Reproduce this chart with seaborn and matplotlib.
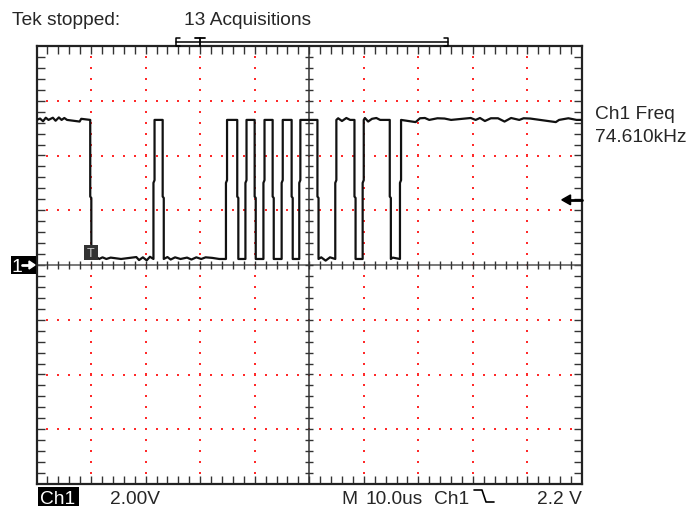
import numpy as np
import pandas as pd
import seaborn as sns
import matplotlib.pyplot as plt
from matplotlib.patches import Rectangle, Polygon

# scope settings (10 us/div, 2 V/div, trigger 1 div from left)
t_min, t_max = -10.0, 90.0
v_min, v_max = -8.0, 8.0
high_v = 5.3
low_v = 0.22
trig_level = 2.38

# edge times in us, alternating fall / rise, starting high
edge_times = [-0.15, 11.44, 13.13, 24.73, 26.8, 28.3, 29.99, 31.6, 33.29,
              34.94, 36.77, 38.17, 41.5, 44.77, 48.29, 49.79, 54.76, 56.63]

# ripple (time us, offset V)
ripple_t = [-9.35, -8.8, -8.3, -7.8, -7.0, -6.5, -5.9, -5.4, -4.9, -4.4, -2.1, -1.8,
            0.9, 1.5, 2.1, 2.8, 3.6, 5.5, 8.3, 8.8, 9.5, 10.2, 10.8,
            14.0, 14.6, 15.4, 16.4, 17.6, 18.4, 19.3, 20.2, 21.0, 22.2, 23.5,
            42.2, 43.0, 43.8, 45.3, 46.0, 46.8, 47.5,
            50.2, 50.8, 51.5, 52.3, 53.0, 55.3,
            59.5, 60.3, 61.2, 62.0, 63.5, 64.8, 66.0, 69.6, 70.5, 71.3, 72.2,
            73.3, 74.6, 75.8, 77.0, 78.5, 79.3, 80.5, 85.2, 85.8, 87.5, 89.0]
ripple_v = [0.05, -0.05, 0.08, 0.0, 0.08, -0.03, 0.09, 0.0, 0.07, 0.0, -0.06, 0.04,
            0.08, 0.0, 0.06, 0.0, 0.05, 0.0, 0.07, -0.04, 0.06, -0.05, 0.08,
            0.07, -0.02, 0.06, 0.0, 0.05, -0.02, 0.06, 0.0, 0.06, 0.04, 0.0,
            0.06, -0.06, 0.06, 0.06, -0.04, 0.07, 0.0,
            0.07, -0.06, 0.04, 0.07, 0.0, 0.05,
            -0.08, 0.06, 0.07, 0.0, 0.06, 0.05, 0.0, 0.07, 0.0, 0.07, -0.04,
            0.06, 0.06, -0.06, 0.07, 0.0, 0.06, 0.05, -0.08, 0.0, 0.06, 0.0]


def build_trace():
    ts, vs = [t_min], [high_v]
    level = high_v
    prev = t_min
    bounds = edge_times + [t_max]
    for i, e in enumerate(bounds):
        for rt, rv in zip(ripple_t, ripple_v):
            if prev < rt < e:
                ts.append(rt)
                vs.append(level + rv)
        if i == len(edge_times):
            ts.append(t_max)
            vs.append(level)
            break
        if level == high_v:
            ts += [e, e, e + 0.2, e + 0.2]
            vs += [high_v, 2.5, 2.45, low_v]
            level = low_v
        else:
            ts += [e, e, e + 0.2, e + 0.2]
            vs += [low_v, 3.0, 3.1, high_v]
            level = high_v
        prev = e + 0.2
    return pd.DataFrame({'t': ts, 'v': vs})


def main():
    sns.set_style('white')
    plt.rcParams['font.family'] = ['Liberation Sans', 'DejaVu Sans']

    W, H = 691, 510
    fig = plt.figure(figsize=(W / 100, H / 100), dpi=100, facecolor='white')
    left, right, top, bottom = 36.5, 582, 47, 485
    ax = fig.add_axes([left / W, (H - bottom) / H, (right - left) / W, (bottom - top) / H])
    ax.set_xlim(t_min, t_max)
    ax.set_ylim(v_min, v_max)

    # red dotted graticule
    for k in range(1, 10):
        if k == 5:
            continue
        gx = t_min + 10 * k
        gy = np.arange(v_min + 0.4, v_max, 0.4)
        ax.scatter(np.full_like(gy, gx), gy, s=2.2, marker='s', color='#ff2a2a', linewidths=0, zorder=1)
    for k in range(1, 8):
        if k == 4:
            continue
        gy = v_min + 2 * k
        gx = np.arange(t_min + 2, t_max, 2)
        ax.scatter(gx, np.full_like(gx, gy), s=2.2, marker='s', color='#ff2a2a', linewidths=0, zorder=1)

    # centre cross with small ticks
    ax.axhline(0, color='#555555', lw=1.1, zorder=2)
    ax.axvline(40, color='#333333', lw=1.1, zorder=2)
    cx = np.arange(t_min + 2, t_max, 2)
    ax.plot(cx, np.zeros_like(cx), ls='none', marker='|', ms=6, mew=1.0, color='#333333', zorder=2)
    cy = np.arange(v_min + 0.4, v_max, 0.4)
    ax.plot(np.full_like(cy, 40), cy, ls='none', marker='_', ms=6, mew=1.0, color='#333333', zorder=2)

    # frame ticks
    ax.set_xticks(np.arange(t_min + 2, t_max, 2))
    ax.set_yticks(np.arange(v_min + 0.4, v_max, 0.4))
    ax.tick_params(direction='in', length=6, width=1.0, color='#333333',
                   top=True, right=True, bottom=True, left=True,
                   labelbottom=False, labelleft=False)
    for s in ax.spines.values():
        s.set_visible(True)
        s.set_color('#222222')
        s.set_linewidth(1.6)

    # waveform
    df = build_trace()
    sns.lineplot(data=df, x='t', y='v', sort=False, estimator=None,
                 color='#111111', lw=1.6, ax=ax, zorder=5)
    ax.set_xlabel('')
    ax.set_ylabel('')

    # trigger point marker
    ax.add_patch(Rectangle((-1.3, 0.19), 2.5, 0.55, facecolor='#333333', edgecolor='none', zorder=6))
    ax.text(-0.05, 0.44, 'T', color='#cccccc', fontsize=9, ha='center', va='center', zorder=7)

    # trigger level arrow
    ax.plot([87.5, 90], [trig_level, trig_level], color='black', lw=2, clip_on=False, zorder=6)
    ax.add_patch(Polygon([[86.3, trig_level], [87.9, trig_level + 0.18], [87.9, trig_level - 0.18]],
                         closed=True, color='black', clip_on=False, zorder=6))

    # overlay in pixel coords for the readouts
    ov = fig.add_axes([0, 0, 1, 1], facecolor='none')
    ov.set_xlim(0, W)
    ov.set_ylim(H, 0)
    ov.axis('off')
    fs = 13.8
    ov.text(12, 25, 'Tek stopped:', fontsize=fs, va='baseline')
    ov.text(184, 25, '13 Acquisitions', fontsize=fs, va='baseline')
    # record bracket
    ov.plot([176, 448], [42.7, 42.7], color='black', lw=1.1)
    ov.plot([180, 176, 176, 180], [38.5, 38.5, 47, 47], color='black', lw=1.1)
    ov.plot([444, 448, 448, 444], [38.5, 38.5, 47, 47], color='black', lw=1.1)
    ov.plot([195, 205], [39.3, 39.3], color='black', lw=1.3)
    ov.plot([200, 200], [39.3, 47], color='black', lw=1.3)

    ov.text(595, 119, 'Ch1 Freq', fontsize=fs, va='baseline')
    ov.text(595, 142, '74.610kHz', fontsize=fs, va='baseline')

    # channel 1 ground marker
    ov.add_patch(Rectangle((11, 257), 25, 18, facecolor='black', edgecolor='none'))
    ov.text(12, 272.5, '1', color='white', fontsize=14, va='baseline')
    ov.plot([22, 30], [266, 266], color='white', lw=2)
    ov.add_patch(Polygon([[35, 266], [29, 262], [29, 270]], closed=True, color='white'))

    # bottom readouts
    ov.add_patch(Rectangle((38, 488), 41, 19, facecolor='black', edgecolor='none'))
    ov.text(40, 504, 'Ch1', color='white', fontsize=fs, va='baseline')
    ov.text(110, 504, '2.00V', fontsize=fs, va='baseline')
    ov.text(341, 504, 'M', fontsize=fs, va='baseline')
    ov.text(366, 504, '10.0us', fontsize=fs, va='baseline')
    ov.text(434, 504, 'Ch1', fontsize=fs, va='baseline')
    ov.plot([474, 482, 486, 494], [491, 491, 503, 503], color='black', lw=1.2)
    ov.text(582, 504, '2.2 V', fontsize=fs, va='baseline', ha='right')

    fig.savefig('out.png', dpi=100, facecolor='white')


if __name__ == '__main__':
    main()
